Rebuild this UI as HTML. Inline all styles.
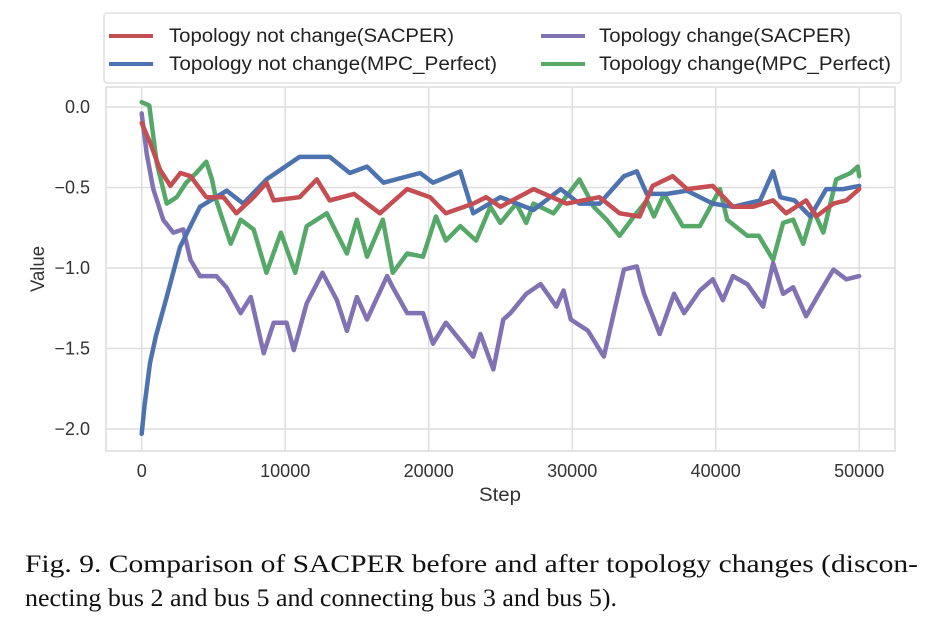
<!DOCTYPE html>
<html><head><meta charset="utf-8"><style>
html,body{margin:0;padding:0;background:#fff;}
svg{display:block;}
</style></head><body>
<svg id="chart" width="945" height="622" viewBox="0 0 945 622" xmlns="http://www.w3.org/2000/svg" font-family="Liberation Sans, Arial, sans-serif">
  <rect x="106" y="87" width="789" height="364" fill="#fff" stroke="#dcdcdc" stroke-width="1.5"/>
  <g id="grid"></g>
  <g id="ticks" font-size="18" fill="#333"></g>
  <g id="series" fill="none" stroke-width="4.5" stroke-linejoin="round" stroke-linecap="round"></g>
  <text x="500" y="501" font-size="19" text-anchor="middle" fill="#333" textLength="42" lengthAdjust="spacingAndGlyphs">Step</text>
  <text x="0" y="0" font-size="19" text-anchor="middle" fill="#333" transform="translate(44,269) rotate(-90)" textLength="46" lengthAdjust="spacingAndGlyphs">Value</text>
  <g>
    <rect x="104" y="13" width="797" height="70" rx="3" fill="#fff" stroke="#e0e0e0" stroke-width="1.5"/>
    <line x1="109" y1="36" x2="153" y2="36" stroke="#c44e52" stroke-width="4"/>
    <text x="169" y="42" font-size="19" fill="#222" textLength="285" lengthAdjust="spacingAndGlyphs">Topology not change(SACPER)</text>
    <line x1="109" y1="64" x2="153" y2="64" stroke="#4c72b0" stroke-width="4"/>
    <text x="169" y="70" font-size="19" fill="#222" textLength="328" lengthAdjust="spacingAndGlyphs">Topology not change(MPC_Perfect)</text>
    <line x1="541" y1="36" x2="585" y2="36" stroke="#8172b3" stroke-width="4"/>
    <text x="599" y="42" font-size="19" fill="#222" textLength="252" lengthAdjust="spacingAndGlyphs">Topology change(SACPER)</text>
    <line x1="541" y1="64" x2="585" y2="64" stroke="#55a868" stroke-width="4"/>
    <text x="599" y="70" font-size="19" fill="#222" textLength="292" lengthAdjust="spacingAndGlyphs">Topology change(MPC_Perfect)</text>
  </g>
  <g font-family="Liberation Serif, Times New Roman, serif" font-size="25" fill="#111">
    <text x="25" y="572" textLength="893" lengthAdjust="spacingAndGlyphs">Fig. 9.  Comparison of SACPER before and after topology changes (discon-</text>
    <text x="25" y="606" textLength="592" lengthAdjust="spacingAndGlyphs">necting bus 2 and bus 5 and connecting bus 3 and bus 5).</text>
  </g>
</svg>
<script>
const xTicks = [0, 10000, 20000, 30000, 40000, 50000];
const yTicks = [0.0, -0.5, -1.0, -1.5, -2.0];
const yTickLabels = ["0.0", "\u22120.5", "\u22121.0", "\u22121.5", "\u22122.0"];

const redSteps = [0,580,1280,2000,2700,3400,4500,5700,6600,7800,8700,9200,11000,12200,13100,14800,16600,18500,20100,21200,23100,24000,25000,27300,29600,31900,33300,34700,35600,37000,38000,39800,41200,42600,44000,44900,46300,47000,48200,49100,50000];
const redValues = [-0.1,-0.22,-0.39,-0.49,-0.41,-0.43,-0.56,-0.56,-0.66,-0.56,-0.47,-0.58,-0.56,-0.45,-0.58,-0.54,-0.66,-0.51,-0.56,-0.66,-0.6,-0.56,-0.62,-0.51,-0.6,-0.56,-0.66,-0.68,-0.49,-0.43,-0.51,-0.49,-0.62,-0.62,-0.58,-0.66,-0.58,-0.68,-0.6,-0.58,-0.51];

const blueSteps = [0,200,580,1000,1740,2670,4060,5920,7080,8700,11000,13100,14500,15700,16850,19400,20300,22200,23100,25000,27300,29200,30500,31900,33600,34500,35200,36600,38000,39800,41200,43100,44000,44500,45500,46600,47700,48900,50000];
const blueValues = [-2.03,-1.85,-1.59,-1.42,-1.18,-0.87,-0.62,-0.52,-0.6,-0.45,-0.31,-0.31,-0.41,-0.37,-0.47,-0.41,-0.47,-0.4,-0.66,-0.56,-0.64,-0.51,-0.6,-0.6,-0.43,-0.4,-0.54,-0.54,-0.52,-0.6,-0.62,-0.58,-0.4,-0.56,-0.58,-0.68,-0.51,-0.51,-0.49];

const purpleSteps = [0,350,810,1500,2200,2900,3400,4060,5200,5900,6900,7600,8500,9200,10100,10600,11500,12600,13600,14300,15000,15700,17100,17500,18500,19600,20300,21200,22200,23100,23600,24500,25200,25700,26800,27800,28900,29400,29900,31100,32200,32900,33600,34500,35000,36100,37100,37800,38900,39800,40500,41200,42200,43300,44000,44700,45400,46300,47200,48200,49100,50000];
const purpleValues = [-0.04,-0.29,-0.51,-0.7,-0.78,-0.76,-0.95,-1.05,-1.05,-1.12,-1.28,-1.18,-1.53,-1.34,-1.34,-1.51,-1.22,-1.03,-1.2,-1.39,-1.18,-1.32,-1.05,-1.12,-1.28,-1.28,-1.47,-1.34,-1.45,-1.55,-1.41,-1.63,-1.32,-1.28,-1.16,-1.1,-1.24,-1.14,-1.32,-1.39,-1.55,-1.28,-1.01,-0.99,-1.16,-1.41,-1.16,-1.28,-1.14,-1.07,-1.2,-1.05,-1.1,-1.24,-0.97,-1.16,-1.12,-1.3,-1.16,-1.01,-1.07,-1.05];

const greenSteps = [0,530,1050,1740,2440,3100,3800,4500,4900,5200,6200,6900,7800,8700,9700,10700,11500,12900,14300,15000,15700,16800,17500,18500,19600,20500,21200,22200,23300,24300,25000,26100,26800,27300,28700,30500,31500,32400,33300,34300,35200,35700,36400,37700,38900,40300,40800,42200,43000,44000,44700,45400,46100,46800,47500,48400,49400,49900,50000];
const greenValues = [0.03,0.01,-0.35,-0.6,-0.56,-0.47,-0.41,-0.34,-0.45,-0.58,-0.85,-0.7,-0.76,-1.03,-0.78,-1.03,-0.74,-0.66,-0.91,-0.7,-0.93,-0.7,-1.03,-0.91,-0.93,-0.68,-0.83,-0.74,-0.83,-0.62,-0.72,-0.6,-0.72,-0.6,-0.66,-0.45,-0.62,-0.7,-0.8,-0.68,-0.58,-0.68,-0.54,-0.74,-0.74,-0.51,-0.7,-0.8,-0.8,-0.95,-0.72,-0.7,-0.85,-0.64,-0.78,-0.45,-0.41,-0.37,-0.43];

const NS = "http://www.w3.org/2000/svg";
function xScale(v){ return 141.7 + v / 10000 * 143.5; }
function yScale(v){ return 107 - v * 161; }

const grid = document.getElementById('grid');
const ticks = document.getElementById('ticks');
xTicks.forEach(function(t){
  const l = document.createElementNS(NS,'line');
  
  
  l.setAttribute('x1', xScale(t)); l.setAttribute('x2', xScale(t));
  l.setAttribute('y1', 87); l.setAttribute('y2', 451);
  l.setAttribute('stroke', '#dedede'); l.setAttribute('stroke-width', '1.5');
  grid.appendChild(l);
  const tx = document.createElementNS(NS,'text');
  
  
  tx.setAttribute('x', xScale(t)); tx.setAttribute('y', 477);
  tx.setAttribute('text-anchor', 'middle');
  tx.textContent = String(t);
  ticks.appendChild(tx);
});
yTicks.forEach(function(t, i){
  const l = document.createElementNS(NS,'line');
  
  
  l.setAttribute('x1', 106); l.setAttribute('x2', 895);
  l.setAttribute('y1', yScale(t)); l.setAttribute('y2', yScale(t));
  l.setAttribute('stroke', '#dedede'); l.setAttribute('stroke-width', '1.5');
  grid.appendChild(l);
  const tx = document.createElementNS(NS,'text');
  
  
  tx.setAttribute('x', 90); tx.setAttribute('y', yScale(t) + 6);
  tx.setAttribute('text-anchor', 'end');
  tx.textContent = yTickLabels[i];
  ticks.appendChild(tx);
});

const series = document.getElementById('series');
function drawLine(steps, values, color, name){
  let d = '';
  for (let i = 0; i < steps.length; i++) {
    d += (i ? 'L' : 'M') + xScale(steps[i]).toFixed(1) + ',' + yScale(values[i]).toFixed(1);
  }
  const p = document.createElementNS(NS,'path');
  
  
  p.setAttribute('d', d);
  p.setAttribute('stroke', color);
  series.appendChild(p);
}
drawLine(greenSteps, greenValues, '#55a868', 'line-topology-change-mpc');
drawLine(purpleSteps, purpleValues, '#8172b3', 'line-topology-change-sacper');
drawLine(blueSteps, blueValues, '#4c72b0', 'line-topology-not-change-mpc');
drawLine(redSteps, redValues, '#c44e52', 'line-topology-not-change-sacper');
</script>
</body></html>
